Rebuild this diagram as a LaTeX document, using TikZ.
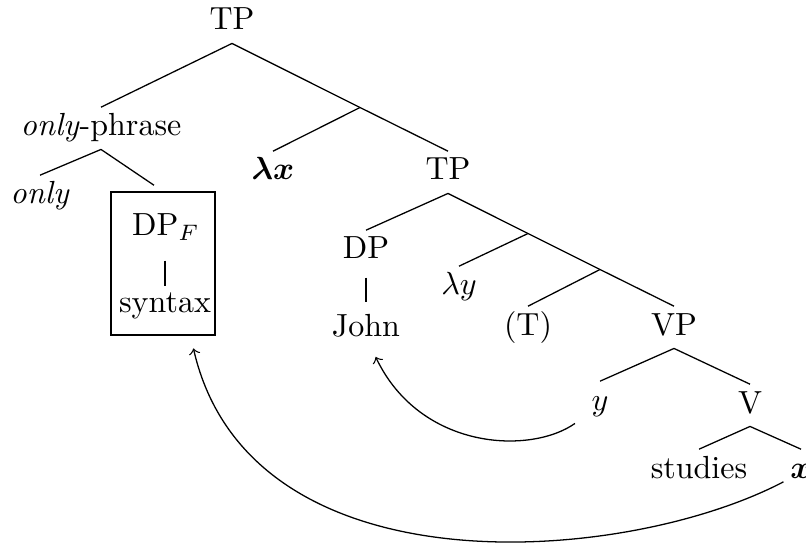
\documentclass[tikz,border=0pt]{standalone}
\usepackage{amsmath,amssymb,bm}
\tikzset{cat/.style={anchor=base, inner sep=2pt, text height=6.8pt, text depth=2pt}, mvarrow/.style={->}}
\begin{document}
\begin{tikzpicture}[x=0.3125pt, y=-0.3125pt]
\useasboundingbox (0,0) rectangle (806,550);
\node[cat] (tp) at (232,30) {TP};
\node[cat] (ophr) at (101,136) {\textit{only}-phrase};
\node[cat] (lx) at (273,180) {$\bm{\lambda x}$};
\node[cat] (tp2) at (448,180) {TP};
\node[cat] (only) at (40,204) {\textit{only}};
\node[cat] (dpf) at (166,236) {DP$_F$};
\node[cat] (syn) at (165,313) {syntax};
\node[draw, inner sep=0pt, minimum width=32.5pt, minimum height=44.7pt] (fbox) at (163,263.5) {};
\node[cat] (dp) at (366,259) {DP};
\node[cat] (john) at (366,337) {John};
\node[cat] (ly) at (459,295) {$\lambda y$};
\node[cat] (tt) at (528,335) {(T)};
\node[cat] (vp) at (674,335) {VP};
\node[cat] (yy) at (600,410) {$y$};
\node[cat] (vv) at (750,413) {V};
\node[cat] (st) at (699,478) {studies};
\node[cat] (bx) at (801,478) {$\bm{x}$};
\coordinate (x1) at (360,107.5);
\coordinate (x2) at (528,233.5);
\coordinate (x3) at (600,269.5);
\draw (tp.south) -- (ophr.north);
\draw (tp.south) -- (x1) -- (tp2.north);
\draw (x1) -- (lx.north);
\draw (ophr.south) -- (only.north);
\draw[shorten >=3.4pt] (ophr.south) -- (fbox.north);
\draw[shorten <=3.5pt, shorten >=-0.7pt] (syn.north |- dpf.south) -- (syn.north);
\draw (tp2.south) -- (dp.north);
\draw[shorten <=1.6pt, shorten >=1.8pt] (dp.south) -- (john.north);
\draw (tp2.south) -- (x2) -- (x3) -- (vp.north);
\draw (x2) -- (ly.north);
\draw (x3) -- (tt.north);
\draw (vp.south) -- (yy.north);
\draw (vp.south) -- (vv.north);
\draw (vv.south) -- (st.north);
\draw (vv.south) -- (bx.north);
\draw[mvarrow] ([xshift=-3pt]yy.south west) .. controls (530,455) and (420,450) .. ([xshift=3pt, yshift=-2pt]john.south);
\draw[mvarrow] ([yshift=3pt]bx.south west) .. controls (625,565) and (250,595) .. ([xshift=9.5pt, yshift=-4pt]fbox.south);
\end{tikzpicture}
\end{document}
